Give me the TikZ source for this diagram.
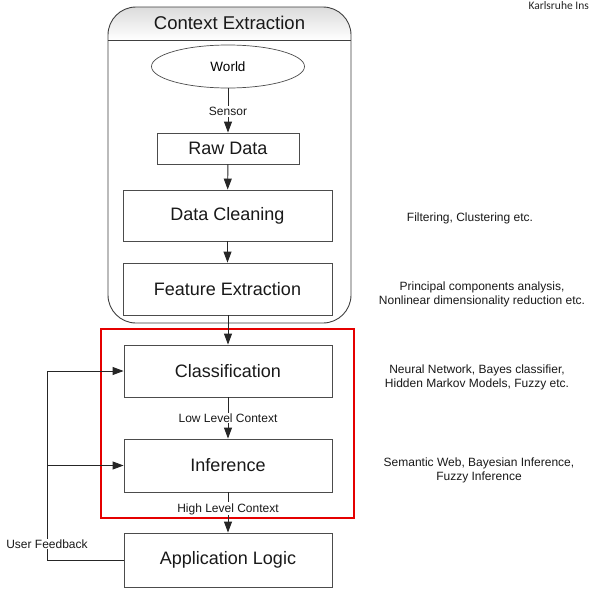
\documentclass[tikz,border=0pt]{standalone}
\usepackage{fontspec}
\setmainfont{Liberation Sans}
\newfontfamily\kitfont{Carlito}
\usetikzlibrary{arrows.meta,shapes.geometric,calc}
\tikzset{
  stagebox/.style={draw=black!70, line width=0.9pt, fill=white, inner sep=0pt, font=\fontsize{18}{20}\selectfont, text=black!90},
  arr/.style={draw=black!85, line width=0.9pt, -{Triangle[length=11pt,width=8pt]}},
  lbl/.style={fill=white, inner sep=1pt, font=\fontsize{12}{13}\selectfont, text=black!90},
  note/.style={align=center, inner sep=0pt, font=\fontsize{12}{14}\selectfont, text=black!90}
}
\begin{document}
\begin{tikzpicture}[x=1pt,y=-1pt]
\useasboundingbox (0,0) rectangle (590,592);
\clip (0,0) rectangle (590,592);
\fill[white] (0,0) rectangle (590,592);

% container
\begin{scope}
  \clip[rounded corners=28pt] (108,7) rectangle (351,323);
  \shade[top color=gray!28, bottom color=white] (108,7) rectangle (351,40);
\end{scope}
\draw[black!75, line width=0.9pt, rounded corners=28pt] (108,7) rectangle (351,323);
\draw[black!75, line width=0.9pt] (108,40) -- (351,40);
\node[font=\fontsize{18.5}{20}\selectfont, text=black!90, inner sep=0pt] (title) at (229.5,23) {Context Extraction};

% nodes
\node[ellipse, draw=black!70, line width=0.7pt, fill=white, minimum width=153pt, minimum height=43pt, inner sep=0pt, font=\fontsize{13.5}{15}\selectfont] (world) at (228,66.5) {World};
\node[stagebox, minimum width=142pt, minimum height=31pt] (raw) at (228,148.5) {Raw Data};
\node[stagebox, minimum width=209pt, minimum height=51pt] (clean) at (227.5,215.5) {Data Cleaning};
\node[stagebox, minimum width=209pt, minimum height=52pt] (feat) at (227.5,289) {Feature Extraction};
\node[stagebox, minimum width=208pt, minimum height=52pt] (cls) at (228,371) {Classification};
\node[stagebox, minimum width=208pt, minimum height=53pt] (inf) at (228,465.5) {Inference};
\node[stagebox, minimum width=208pt, minimum height=54pt] (app) at (228,560) {Application Logic};

% red frame
\draw[red!90!black, line width=2pt] (101,329) rectangle (354,518);

% connectors
\draw[arr] (world) -- node[lbl, pos=0.52] {Sensor} (raw);
\draw[arr] (raw) -- (clean);
\draw[arr] (clean) -- (feat);
\draw[arr] (feat.south -| cls.north) -- (cls.north);
\draw[arr] (cls) -- node[lbl] {Low Level Context} (inf);
\draw[arr] (inf) -- node[lbl, pos=0.41] {High Level Context} (app);

% feedback
\coordinate (fbL) at (47,0);
\draw[arr] (app.west) -| (fbL |- cls.west) -- (cls.west);
\draw[arr] (fbL |- inf.west) -- (inf.west);
\node[lbl, inner sep=0.5pt] (fb) at (47,544) {User Feedback};

% notes
\node[note] (n1) at (470,218) {Filtering, Clustering etc.};
\node[note] (n2) at (482,294) {Principal components analysis,\\Nonlinear dimensionality reduction etc.};
\node[note] (n3) at (477,377) {Neural Network, Bayes classifier,\\Hidden Markov Models, Fuzzy etc.};
\node[note] (n4) at (479,470) {Semantic Web, Bayesian Inference,\\Fuzzy Inference};

\node[anchor=north east, inner sep=0pt, font=\kitfont\fontsize{11.5}{12}\selectfont, text=black!85] (kit) at (589,1) {Karlsruhe Ins};
\end{tikzpicture}
\end{document}
